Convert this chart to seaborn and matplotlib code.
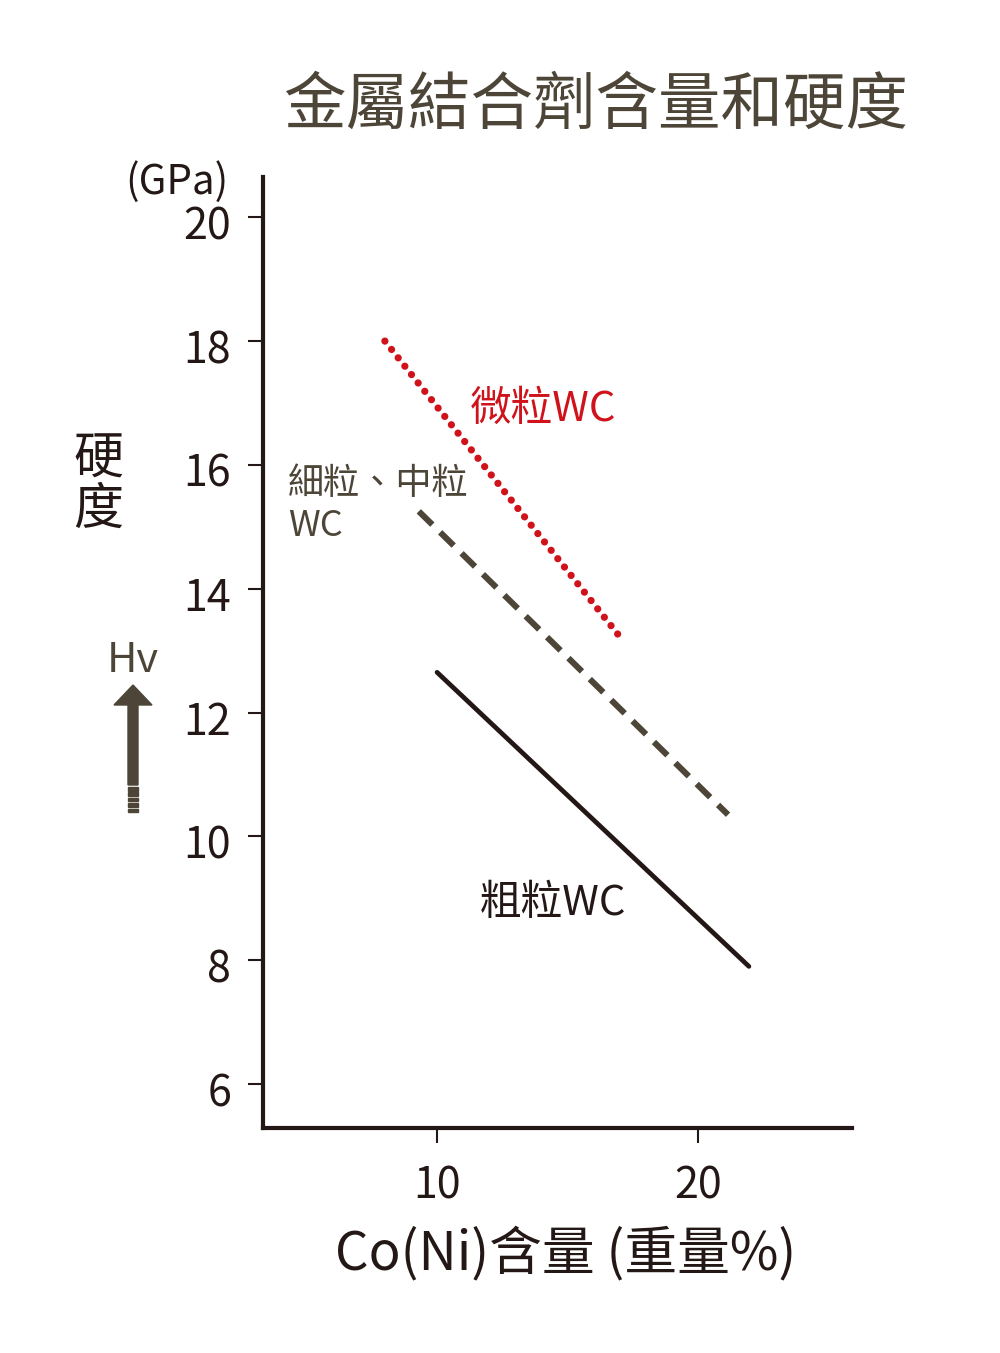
import matplotlib
matplotlib.use("Agg")
import matplotlib.pyplot as plt
import matplotlib.transforms as mtransforms
import seaborn as sns
from matplotlib.patches import FancyArrow, Rectangle

# data
fine_x = [8.0, 17.05]
fine_y = [18.0, 13.2]
medium_x = [9.3, 21.15]
medium_y = [15.25, 10.35]
coarse_x = [10.0, 21.95]
coarse_y = [12.65, 7.9]
y_ticks = [6, 8, 10, 12, 14, 16, 18, 20]
x_ticks = [10, 20]

BLACK = "#231815"
BROWN = "#4d4638"
RED = "#d0121b"

sns.set_theme(style="white")
plt.rcParams["font.family"] = ["Noto Sans CJK TC", "DejaVu Sans"]

W, H = 1000, 1353
fig = plt.figure(figsize=(W / 100, H / 100), dpi=100)


def px(x, y):
    return x / W, 1 - y / H


ax = fig.add_axes([263 / W, 1 - 1128 / H, (852 - 263) / W, (1128 - 177) / H])

sns.lineplot(x=fine_x, y=fine_y, ax=ax, color=RED, lw=5.2,
             linestyle=(0, (0.01, 1.47)), dash_capstyle="round")
sns.lineplot(x=medium_x, y=medium_y, ax=ax, color=BROWN, lw=4.4,
             linestyle=(0, (3.1, 1.8)), dash_capstyle="butt")
sns.lineplot(x=coarse_x, y=coarse_y, ax=ax, color=BLACK, lw=3.4)

ax.set_xlim(3.33, 25.9)
ax.set_ylim(5.29, 20.65)
ax.set_xticks(x_ticks)
ax.set_yticks(y_ticks)
ax.set_xticklabels([str(v) for v in x_ticks])
ax.set_yticklabels([str(v) for v in y_ticks])
ax.tick_params(axis="both", direction="out", length=11, width=1.5,
               color=BLACK, labelcolor=BLACK, labelsize=31, pad=12)
ax.tick_params(axis="x", pad=15)
ax.tick_params(axis="both", bottom=True, left=True)
sns.despine(ax=ax)
for side in ["left", "bottom"]:
    ax.spines[side].set_color(BLACK)
    ax.spines[side].set_linewidth(3.0)
ax.set_facecolor("white")

# the y tick labels sit a little below their ticks in the original
shift = mtransforms.ScaledTranslation(0, -5 / 100, fig.dpi_scale_trans)
for lab in ax.get_yticklabels():
    lab.set_transform(lab.get_transform() + shift)

# texts
fig.text(*px(596, 106), "金屬結合劑含量和硬度", fontsize=45, color=BROWN,
         ha="center", va="center")
fig.text(*px(177, 182), "(GPa)", fontsize=29, color=BLACK, ha="center", va="center")
fig.text(*px(98, 460), "硬", fontsize=36, color=BLACK, ha="center", va="center")
fig.text(*px(98, 510), "度", fontsize=36, color=BLACK, ha="center", va="center")
fig.text(*px(133, 660), "Hv", fontsize=30, color=BROWN, ha="center", va="center")
fig.text(*px(335, 1254), "Co(Ni)含量 (重量%)", fontsize=38, color=BLACK,
         ha="left", va="center")

ax.text(11.26, 16.89, "微粒WC", fontsize=30, color=RED, ha="left", va="center")
ax.text(4.29, 15.69, "細粒、中粒", fontsize=26, color=BROWN, ha="left", va="center")
ax.text(4.29, 15.01, "WC", fontsize=26, color=BROWN, ha="left", va="center")
ax.text(11.65, 8.92, "粗粒WC", fontsize=30, color=BLACK, ha="left", va="center")

# Hv arrow with striped tail
x0, y_tip = px(133, 685)
_, y_base = px(133, 785)
fig.add_artist(FancyArrow(x0, y_base, 0, y_tip - y_base, width=10 / W,
                          head_width=38 / W, head_length=20 / H,
                          length_includes_head=True, color=BROWN,
                          transform=fig.transFigure))
for i in range(5):
    top = 787 + i * 5.4
    fig.add_artist(Rectangle(px(128, top + 3.6), 10 / W, 3.6 / H,
                             color=BROWN, transform=fig.transFigure))

fig.savefig("out.png", dpi=100, facecolor="white")
